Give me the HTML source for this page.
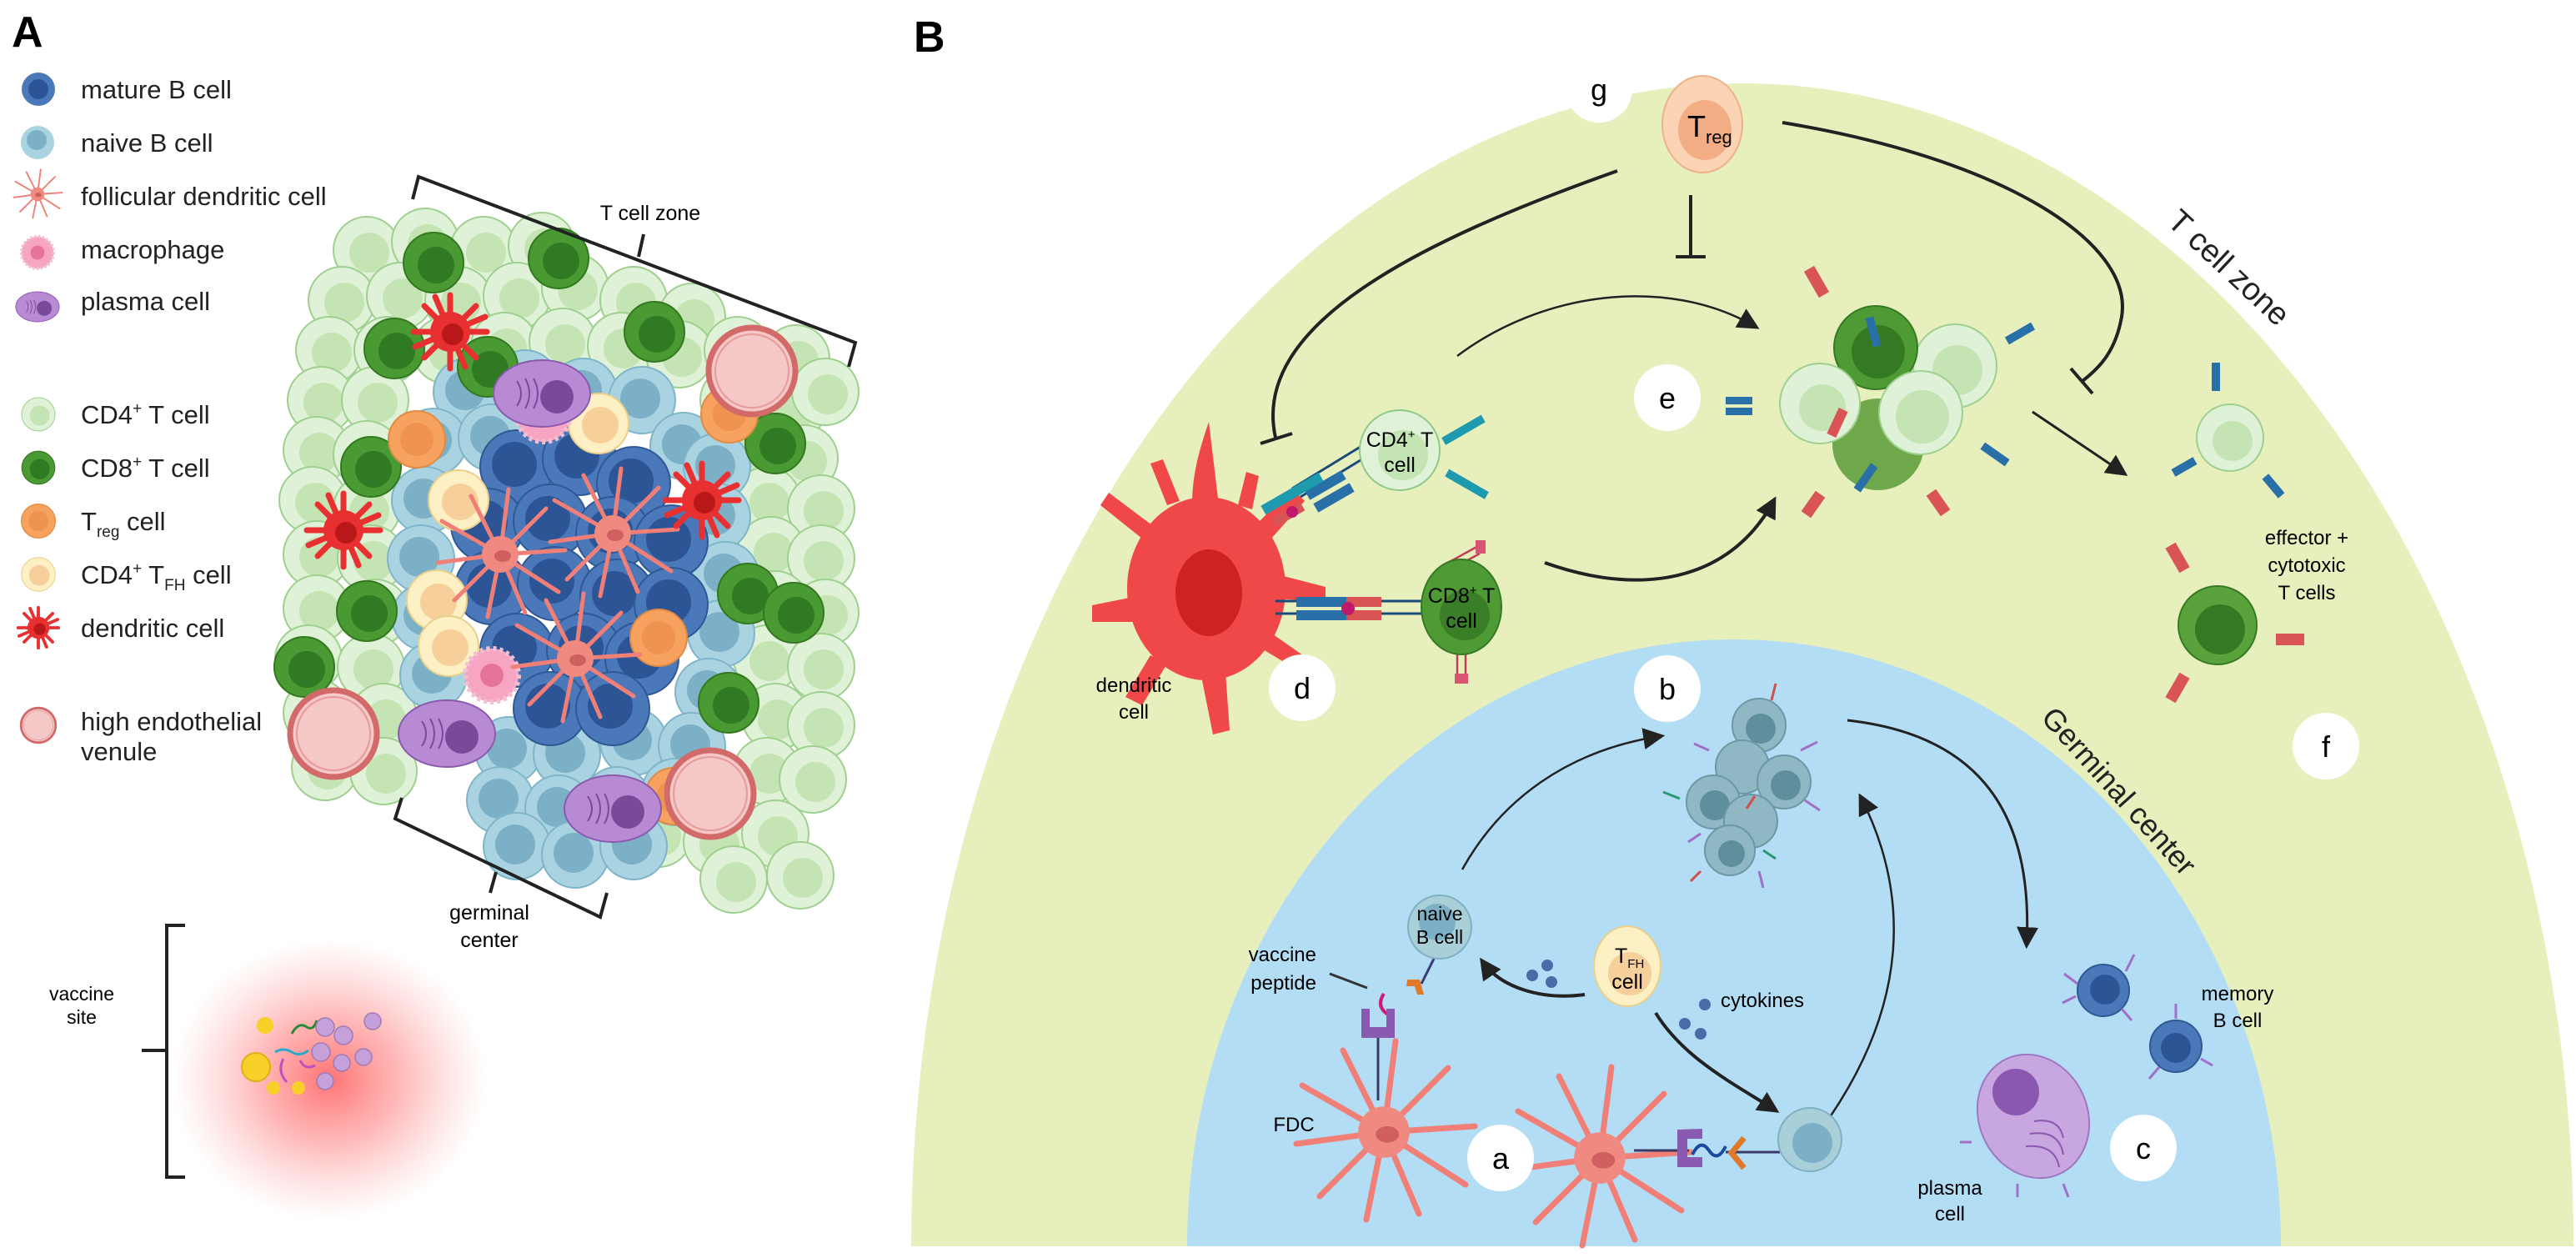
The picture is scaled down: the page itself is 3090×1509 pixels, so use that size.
<!DOCTYPE html>
<html><head><meta charset="utf-8"><style>
html,body{margin:0;padding:0;background:#fff;}
svg{display:block;font-family:"Liberation Sans",sans-serif;}
</style></head><body>
<svg width="3090" height="1509" viewBox="0 0 3090 1509" xmlns="http://www.w3.org/2000/svg">
<defs>
<radialGradient id="glow"><stop offset="0" stop-color="#ff6b6b" stop-opacity="0.95"/><stop offset="0.45" stop-color="#ff8a8a" stop-opacity="0.6"/><stop offset="1" stop-color="#ffb0b0" stop-opacity="0"/></radialGradient>
<g id="cd4"><circle r="40" fill="#dff1d6" stroke="#9fd08f" stroke-width="2"/><circle cx="3" cy="3" r="24" fill="#c4e4b4"/></g>
<g id="cd8"><circle r="36" fill="#4a9a34" stroke="#33781f" stroke-width="2"/><circle cx="3" cy="3" r="22" fill="#2f7a22"/></g>
<g id="nb"><circle r="40" fill="#a9d3e1" stroke="#7fb5c9" stroke-width="2"/><circle cx="-2" cy="-2" r="24" fill="#7cb0c6"/></g>
<g id="mb"><circle r="44" fill="#4a78b8" stroke="#2f5896" stroke-width="2"/><circle cx="-3" cy="-3" r="27" fill="#2d5596"/></g>
<g id="treg"><circle r="34" fill="#f7a25e" stroke="#e08a43" stroke-width="2"/><circle r="20" fill="#ef9350"/></g>
<g id="tfh"><circle r="36" fill="#fdf0c4" stroke="#e9d08a" stroke-width="2"/><circle cx="2" cy="2" r="22" fill="#f6cf9a"/></g>
<g id="mac"><circle r="32" fill="#f7a5c3" stroke="#f2c0d3" stroke-width="6" stroke-dasharray="4 4"/><circle r="14" fill="#e5739c"/></g>
<g id="pc"><ellipse rx="58" ry="40" fill="#b98ad4" stroke="#8a5aae" stroke-width="2"/><circle cx="18" cy="4" r="20" fill="#7a4a9a"/><path d="M-30,-15 q10,15 0,30 M-20,-18 q10,18 0,36 M-10,-18 q10,18 0,36" stroke="#7a4a9a" stroke-width="2" fill="none"/></g>
<g id="hev"><circle r="52" fill="#f5c8c8" stroke="#d26a6a" stroke-width="7"/><circle r="44" fill="none" stroke="#e89999" stroke-width="2"/></g>
<g id="dc"><circle r="24" fill="#e83030"/><path d="M0,-44 L0,44 M-44,0 L44,0 M-31,-31 L31,31 M-31,31 L31,-31 M-18,-42 L18,42 M42,-18 L-42,18" stroke="#e83030" stroke-width="7" stroke-linecap="round"/><circle cx="3" cy="3" r="13" fill="#b81818"/></g>
<g id="fdc"><path d="M0,0 L-70,-40 M0,0 L-75,10 M0,0 L-55,55 M0,0 L-15,75 M0,0 L30,70 M0,0 L70,45 M0,0 L78,-5 M0,0 L55,-55 M0,0 L10,-78 M0,0 L-35,-70" stroke="#f07f78" stroke-width="5" stroke-linecap="round" fill="none"/><circle r="22" fill="#f08a80"/><ellipse cx="3" cy="2" rx="10" ry="7" fill="#d06060"/></g>
<marker id="ah2" viewBox="0 0 10 10" markerWidth="26" markerHeight="26" refX="8" refY="5" orient="auto" markerUnits="userSpaceOnUse"><path d="M0,0 L10,5 L0,10 Z" fill="#222"/></marker>
</defs>

<!-- PANEL A -->
<text x="14" y="56" font-size="52" font-weight="bold">A</text>
<g font-size="31" fill="#222">
<circle cx="46" cy="107" r="20" fill="#4a78b8"/><circle cx="46" cy="107" r="12" fill="#2d5596"/><text x="97" y="118">mature B cell</text>
<circle cx="45" cy="171" r="20" fill="#a9d3e1"/><circle cx="44" cy="168" r="12" fill="#7cb0c6"/><text x="97" y="182">naive B cell</text>
<use href="#fdc" transform="translate(45,233) scale(0.38)"/><text x="97" y="246">follicular dendritic cell</text>
<use href="#mac" transform="translate(45,303) scale(0.6)"/><text x="97" y="310">macrophage</text>
<use href="#pc" transform="translate(45,368) scale(0.45)"/><text x="97" y="372">plasma cell</text>
<use href="#cd4" transform="translate(46,497) scale(0.5)"/><text x="97" y="508">CD4<tspan font-size="19" dy="-12">+</tspan><tspan dy="12"> T cell</tspan></text>
<use href="#cd8" transform="translate(46,561) scale(0.55)"/><text x="97" y="572">CD8<tspan font-size="19" dy="-12">+</tspan><tspan dy="12"> T cell</tspan></text>
<use href="#treg" transform="translate(46,625) scale(0.6)"/><text x="97" y="636">T<tspan font-size="19" dy="8">reg</tspan><tspan dy="-8"> cell</tspan></text>
<use href="#tfh" transform="translate(46,689) scale(0.56)"/><text x="97" y="700">CD4<tspan font-size="19" dy="-12">+</tspan><tspan dy="12"> T</tspan><tspan font-size="19" dy="8">FH</tspan><tspan dy="-8"> cell</tspan></text>
<use href="#dc" transform="translate(46,753) scale(0.55)"/><text x="97" y="764">dendritic cell</text>
<use href="#hev" transform="translate(46,870) scale(0.4)"/><text x="97" y="876">high endothelial</text><text x="97" y="912">venule</text>
</g>

<g>
<use href="#cd4" x="440" y="300"/><use href="#cd4" x="510" y="290"/><use href="#cd4" x="580" y="300"/><use href="#cd4" x="650" y="295"/>
<use href="#cd4" x="410" y="360"/><use href="#cd4" x="480" y="355"/><use href="#cd4" x="550" y="360"/><use href="#cd4" x="620" y="355"/><use href="#cd4" x="690" y="345"/><use href="#cd4" x="760" y="360"/><use href="#cd4" x="830" y="380"/>
<use href="#cd4" x="395" y="420"/><use href="#cd4" x="465" y="420"/><use href="#cd4" x="535" y="420"/><use href="#cd4" x="605" y="415"/><use href="#cd4" x="675" y="410"/><use href="#cd4" x="745" y="415"/><use href="#cd4" x="815" y="425"/><use href="#cd4" x="885" y="420"/><use href="#cd4" x="955" y="430"/>
<use href="#cd4" x="385" y="480"/><use href="#cd4" x="450" y="480"/><use href="#cd4" x="880" y="480"/><use href="#cd4" x="950" y="490"/><use href="#cd4" x="990" y="470"/>
<use href="#cd4" x="380" y="540"/><use href="#cd4" x="440" y="545"/><use href="#cd4" x="900" y="540"/><use href="#cd4" x="965" y="550"/>
<use href="#cd4" x="375" y="600"/><use href="#cd4" x="440" y="610"/><use href="#cd4" x="920" y="600"/><use href="#cd4" x="985" y="610"/>
<use href="#cd4" x="380" y="665"/><use href="#cd4" x="445" y="670"/><use href="#cd4" x="925" y="660"/><use href="#cd4" x="985" y="670"/>
<use href="#cd4" x="380" y="730"/><use href="#cd4" x="450" y="735"/><use href="#cd4" x="930" y="725"/><use href="#cd4" x="990" y="735"/>
<use href="#cd4" x="370" y="790"/><use href="#cd4" x="445" y="800"/><use href="#cd4" x="920" y="790"/><use href="#cd4" x="985" y="800"/>
<use href="#cd4" x="380" y="855"/><use href="#cd4" x="460" y="860"/><use href="#cd4" x="930" y="860"/><use href="#cd4" x="985" y="870"/>
<use href="#cd4" x="390" y="920"/><use href="#cd4" x="460" y="925"/><use href="#cd4" x="920" y="925"/><use href="#cd4" x="975" y="935"/>
<use href="#cd4" x="790" y="1000"/><use href="#cd4" x="860" y="1010"/><use href="#cd4" x="930" y="1000"/><use href="#cd4" x="960" y="1050"/><use href="#cd4" x="880" y="1055"/>
</g>
<g>
<use href="#nb" x="560" y="470"/><use href="#nb" x="630" y="460"/><use href="#nb" x="700" y="470"/><use href="#nb" x="770" y="480"/>
<use href="#nb" x="520" y="530"/><use href="#nb" x="590" y="525"/><use href="#nb" x="820" y="535"/><use href="#nb" x="860" y="560"/>
<use href="#nb" x="510" y="600"/><use href="#nb" x="860" y="620"/><use href="#nb" x="505" y="670"/><use href="#nb" x="870" y="690"/>
<use href="#nb" x="510" y="740"/><use href="#nb" x="865" y="760"/><use href="#nb" x="520" y="810"/><use href="#nb" x="850" y="830"/>
<use href="#nb" x="540" y="880"/><use href="#nb" x="610" y="900"/><use href="#nb" x="680" y="905"/><use href="#nb" x="760" y="890"/><use href="#nb" x="830" y="895"/>
<use href="#nb" x="600" y="960"/><use href="#nb" x="670" y="970"/><use href="#nb" x="740" y="960"/><use href="#nb" x="810" y="950"/>
<use href="#nb" x="620" y="1015"/><use href="#nb" x="690" y="1025"/><use href="#nb" x="760" y="1015"/>
</g>
<g>
<use href="#mb" x="620" y="560"/><use href="#mb" x="695" y="550"/><use href="#mb" x="760" y="580"/>
<use href="#mb" x="585" y="630"/><use href="#mb" x="660" y="625"/><use href="#mb" x="735" y="640"/><use href="#mb" x="805" y="650"/>
<use href="#mb" x="590" y="705"/><use href="#mb" x="665" y="700"/><use href="#mb" x="740" y="715"/><use href="#mb" x="805" y="725"/>
<use href="#mb" x="620" y="780"/><use href="#mb" x="700" y="780"/><use href="#mb" x="770" y="790"/>
<use href="#mb" x="660" y="850"/><use href="#mb" x="735" y="850"/>
</g>
<use href="#cd8" x="473" y="418"/><use href="#cd8" x="520" y="315"/><use href="#cd8" x="670" y="310"/><use href="#cd8" x="585" y="440"/>
<use href="#cd8" x="785" y="398"/><use href="#cd8" x="930" y="532"/><use href="#cd8" x="445" y="560"/><use href="#cd8" x="440" y="733"/>
<use href="#cd8" x="365" y="800"/><use href="#cd8" x="897" y="712"/><use href="#cd8" x="952" y="735"/><use href="#cd8" x="874" y="843"/>
<use href="#treg" x="500" y="527"/><use href="#treg" x="790" y="765"/><use href="#treg" x="808" y="955"/><use href="#treg" x="875" y="497"/>
<use href="#tfh" x="550" y="600"/><use href="#tfh" x="718" y="508"/><use href="#tfh" x="524" y="720"/><use href="#tfh" x="538" y="775"/>
<use href="#mac" x="652" y="498"/><use href="#mac" x="590" y="810"/>
<use href="#pc" x="650" y="472"/><use href="#pc" x="536" y="880"/><use href="#pc" x="735" y="970"/>
<use href="#fdc" x="600" y="665"/><use href="#fdc" x="735" y="640"/><use href="#fdc" x="690" y="790"/>
<use href="#dc" x="540" y="398"/><use href="#dc" x="412" y="636"/><use href="#dc" x="842" y="600"/>
<use href="#hev" x="902" y="445"/><use href="#hev" x="400" y="880"/><use href="#hev" x="852" y="952"/>

<g stroke="#222" stroke-width="4" fill="none">
<path d="M495,239 L502,212 L1026,411 L1018,440"/><path d="M772,281 L766,308"/>
<path d="M482,957 L474,982 L720,1100 L728,1071"/><path d="M595,1046 L588,1071"/>
<path d="M222,1110 L200,1110 L200,1412 L222,1412"/><path d="M200,1260 L170,1260"/>
</g>
<text x="780" y="264" font-size="25" text-anchor="middle">T cell zone</text>
<text x="587" y="1103" font-size="25" text-anchor="middle">germinal</text><text x="587" y="1136" font-size="25" text-anchor="middle">center</text>
<text x="98" y="1200" font-size="23" text-anchor="middle">vaccine</text><text x="98" y="1228" font-size="23" text-anchor="middle">site</text>
<ellipse cx="395" cy="1295" rx="190" ry="170" fill="url(#glow)"/>
<circle cx="318" cy="1230" r="10" fill="#f7d02a"/><circle cx="307" cy="1280" r="17" fill="#f7d02a" stroke="#e0b010" stroke-width="2"/><circle cx="328" cy="1305" r="8" fill="#f7d02a"/><circle cx="358" cy="1305" r="8" fill="#f7d02a"/>
<path d="M350,1240 q8,-15 18,-8 q8,5 12,-8" stroke="#2a8a3a" stroke-width="3" fill="none"/>
<path d="M330,1262 q10,-6 20,0 q10,6 20,-2" stroke="#2aa8c8" stroke-width="3" fill="none"/>
<path d="M340,1270 q-8,15 4,28 M360,1272 q6,12 18,6" stroke="#c04fc0" stroke-width="3" fill="none"/>
<g fill="#c6a0d8" stroke="#a07ab8" stroke-width="1.5"><circle cx="390" cy="1232" r="11"/><circle cx="412" cy="1242" r="11"/><circle cx="447" cy="1225" r="10"/><circle cx="385" cy="1262" r="11"/><circle cx="410" cy="1275" r="10"/><circle cx="436" cy="1268" r="10"/><circle cx="390" cy="1297" r="10"/></g>

<!-- PANEL B -->
<text x="1096" y="62" font-size="52" font-weight="bold">B</text>
<path d="M1093,1495 A997,1395 0 0 1 3087,1495 Z" fill="#e7efbd"/>
<path d="M1424,1495 A656,728 0 0 1 2736,1495 Z" fill="#b3ddf4"/>
<text transform="translate(2598,268) rotate(43)" font-size="38" fill="#222">T cell zone</text>
<text transform="translate(2447,862) rotate(48)" font-size="36" fill="#222">Germinal center</text>

<g stroke="#222" stroke-width="4" fill="none">
<path d="M1940,205 C1700,290 1500,390 1530,525"/><path d="M1512,532 L1550,520"/>
<path d="M2028,234 L2028,308"/><path d="M2010,308 L2046,308"/>
<path d="M2138,147 C2400,190 2560,290 2545,380 C2538,420 2520,440 2498,457"/><path d="M2484,442 L2510,472"/>
<path d="M1748,427 C1850,350 2000,330 2106,392" stroke-width="2.5" marker-end="url(#ah2)"/>
<path d="M1853,675 C1980,720 2080,690 2128,600" marker-end="url(#ah2)"/>
<path d="M2438,494 L2548,568" stroke-width="3" marker-end="url(#ah2)"/>
<path d="M1754,1043 C1800,960 1880,900 1992,883" marker-end="url(#ah2)" stroke-width="2.5"/>
<path d="M1901,1193 C1850,1200 1800,1185 1778,1153" marker-end="url(#ah2)"/>
<path d="M1986,1215 C2020,1270 2080,1300 2130,1332" marker-end="url(#ah2)"/>
<path d="M2195,1340 C2290,1200 2290,1070 2232,956" marker-end="url(#ah2)" stroke-width="2.5"/>
<path d="M2216,864 C2360,880 2440,960 2431,1133" marker-end="url(#ah2)" stroke-width="3"/>
</g>
<ellipse cx="2042" cy="149" rx="48" ry="58" fill="#fbd4b6" stroke="#eeb18a" stroke-width="2"/><ellipse cx="2045" cy="156" rx="32" ry="36" fill="#f2ad84"/>
<text x="2024" y="164" font-size="36">T<tspan font-size="22" dy="8">reg</tspan></text>

<!-- DC + receptors + CD8 (shifted) -->
<g transform="translate(-10,-54)">
<g fill="#f04848">
<ellipse cx="1457" cy="760" rx="95" ry="110"/>
<path d="M1440,660 C1440,620 1450,590 1460,560 L1472,660 Z M1380,700 L1330,660 L1340,645 L1400,690 Z M1370,770 L1320,780 L1320,800 L1375,800 Z M1390,840 L1360,890 L1380,900 L1410,850 Z M1450,860 L1465,935 L1485,930 L1480,860 Z M1520,830 L1570,860 L1580,845 L1530,810 Z M1530,740 L1600,758 L1600,775 L1530,772 Z M1520,680 L1560,640 L1575,655 L1535,700 Z M1495,660 L1505,620 L1520,625 L1512,665 Z M1410,660 L1390,610 L1405,605 L1425,655 Z"/>
</g>
<ellipse cx="1460" cy="765" rx="40" ry="52" fill="#cc2222"/>
<g stroke="#1a4a7a" stroke-width="3"><path d="M1560,640 L1645,588 M1570,650 L1655,598"/><path d="M1540,775 L1620,775 M1540,790 L1620,790 M1660,775 L1715,775 M1660,790 L1715,790"/></g>
<g fill="#2a70a8"><rect x="1565" y="770" width="60" height="12"/><rect x="1565" y="786" width="60" height="12"/><rect x="1575" y="630" width="50" height="12" transform="rotate(-30 1600 636)"/><rect x="1585" y="645" width="50" height="12" transform="rotate(-30 1610 651)"/></g>
<g fill="#d95454"><rect x="1625" y="770" width="42" height="12"/><rect x="1625" y="786" width="42" height="12"/><rect x="1535" y="665" width="40" height="12" transform="rotate(-30 1555 671)"/></g>
<circle cx="1627" cy="784" r="8" fill="#c0186a"/><circle cx="1560" cy="668" r="7" fill="#c0186a"/>
<rect x="1520" y="640" width="80" height="12" transform="rotate(-30 1560 646)" fill="#1e9aae"/>
<path d="M1745,730 L1785,708 M1745,740 L1785,718" stroke="#c0405a" stroke-width="2.5"/><rect x="1780" y="702" width="12" height="16" fill="#d95470"/>
<path d="M1758,835 L1758,870 M1768,835 L1768,870" stroke="#c0405a" stroke-width="2.5"/><rect x="1755" y="862" width="16" height="12" fill="#d95470"/>
<ellipse cx="1763" cy="782" rx="48" ry="57" fill="#4e9a34" stroke="#357a22" stroke-width="2"/><circle cx="1767" cy="792" r="30" fill="#3a7e28"/>
<text x="1763" y="777" font-size="25" text-anchor="middle">CD8<tspan font-size="15" dy="-10">+</tspan><tspan dy="10"> T</tspan></text><text x="1763" y="807" font-size="25" text-anchor="middle">cell</text>
</g>
<g fill="#1e9aae"><rect x="1728" y="511" width="55" height="10" transform="rotate(-30 1755 516)"/><rect x="1732" y="576" width="55" height="10" transform="rotate(30 1760 581)"/></g>
<circle cx="1679" cy="540" r="48" fill="#e0f3d8" stroke="#8fc98a" stroke-width="2"/><circle cx="1683" cy="546" r="30" fill="#c4e4b4"/>
<text x="1679" y="536" font-size="25" text-anchor="middle">CD4<tspan font-size="15" dy="-10">+</tspan><tspan dy="10"> T</tspan></text><text x="1679" y="566" font-size="25" text-anchor="middle">cell</text>
<text x="1360" y="830" font-size="24" text-anchor="middle">dendritic</text><text x="1360" y="862" font-size="24" text-anchor="middle">cell</text>

<!-- cluster e -->
<g>
<circle cx="2253" cy="533" r="55" fill="#6ea84a"/>
<circle cx="2345" cy="439" r="50" fill="#dff1d6" stroke="#9fd08f" stroke-width="2"/><circle cx="2348" cy="444" r="30" fill="#c4e4b4"/>
<circle cx="2250" cy="417" r="50" fill="#4e9a34" stroke="#357a22" stroke-width="2"/><circle cx="2253" cy="422" r="32" fill="#357a22"/>
<circle cx="2183" cy="484" r="48" fill="#dff1d6" stroke="#9fd08f" stroke-width="2"/><circle cx="2186" cy="489" r="28" fill="#c4e4b4"/>
<circle cx="2304" cy="495" r="50" fill="#dff1d6" stroke="#9fd08f" stroke-width="2"/><circle cx="2306" cy="500" r="32" fill="#c4e4b4"/>
<g fill="#2a70a8"><rect x="2070" y="476" width="32" height="9"/><rect x="2070" y="489" width="32" height="9"/><rect x="2405" y="395" width="36" height="10" transform="rotate(-30 2423 400)"/><rect x="2375" y="540" width="36" height="10" transform="rotate(35 2393 545)"/><rect x="2220" y="568" width="36" height="10" transform="rotate(-55 2238 573)"/><rect x="2242" y="380" width="10" height="36" transform="rotate(-15 2247 398)"/></g>
<g fill="#d95454"><rect x="2172" y="320" width="14" height="36" transform="rotate(-30 2179 338)"/><rect x="2168" y="590" width="14" height="30" transform="rotate(35 2175 605)"/><rect x="2318" y="588" width="14" height="30" transform="rotate(-35 2325 603)"/><rect x="2198" y="490" width="12" height="34" transform="rotate(25 2204 507)"/></g>
</g>
<!-- effector cells -->
<circle cx="2675" cy="525" r="40" fill="#dff1d6" stroke="#9fd08f" stroke-width="2"/><circle cx="2678" cy="529" r="24" fill="#c4e4b4"/>
<g fill="#2a70a8"><rect x="2653" y="435" width="10" height="34"/><rect x="2605" y="555" width="30" height="10" transform="rotate(-30 2620 560)"/><rect x="2712" y="578" width="30" height="10" transform="rotate(50 2727 583)"/></g>
<circle cx="2660" cy="750" r="47" fill="#5aa23c" stroke="#357a22" stroke-width="2"/><circle cx="2663" cy="755" r="30" fill="#357a22"/>
<g fill="#d95454"><rect x="2605" y="652" width="14" height="34" transform="rotate(-30 2612 669)"/><rect x="2730" y="760" width="34" height="14"/><rect x="2605" y="808" width="14" height="34" transform="rotate(30 2612 825)"/></g>
<text x="2767" y="653" font-size="24" text-anchor="middle">effector +</text><text x="2767" y="686" font-size="24" text-anchor="middle">cytotoxic</text><text x="2767" y="719" font-size="24" text-anchor="middle">T cells</text>
<!-- b cluster -->
<g>
<circle cx="2110" cy="870" r="32" fill="#8fb8c4" stroke="#6c98a6" stroke-width="2"/><circle cx="2112" cy="874" r="18" fill="#5f8e9c"/>
<circle cx="2090" cy="920" r="32" fill="#8fb8c4" stroke="#6c98a6" stroke-width="2"/>
<circle cx="2140" cy="938" r="32" fill="#8fb8c4" stroke="#6c98a6" stroke-width="2"/><circle cx="2142" cy="942" r="18" fill="#5f8e9c"/>
<circle cx="2055" cy="962" r="32" fill="#8fb8c4" stroke="#6c98a6" stroke-width="2"/><circle cx="2057" cy="966" r="18" fill="#5f8e9c"/>
<circle cx="2100" cy="985" r="32" fill="#8fb8c4" stroke="#6c98a6" stroke-width="2"/>
<circle cx="2075" cy="1020" r="30" fill="#8fb8c4" stroke="#6c98a6" stroke-width="2"/><circle cx="2077" cy="1024" r="16" fill="#5f8e9c"/>
<g stroke="#a070c8" stroke-width="3"><path d="M2160,900 l20,-10 M2165,960 l18,12 M2040,1000 l-15,10 M2110,1045 l5,20 M2050,900 l-18,-8"/></g>
<g stroke="#d05050" stroke-width="3"><path d="M2125,840 l5,-20 M2040,1045 l-12,12 M2095,970 l10,-15"/></g>
<g stroke="#2a9a70" stroke-width="3"><path d="M2015,958 l-20,-8 M2115,1020 l15,10"/></g>
</g>
<!-- naive B / TFH -->
<path d="M1720,1150 L1705,1180" stroke="#3a3a7a" stroke-width="3"/>
<circle cx="1727" cy="1112" r="38" fill="#a9cfd9" stroke="#7fb0c0" stroke-width="2"/><circle cx="1724" cy="1106" r="22" fill="#7cb0c6"/>
<text x="1727" y="1104" font-size="23" text-anchor="middle">naive</text><text x="1727" y="1132" font-size="23" text-anchor="middle">B cell</text>
<path d="M1688,1175 l15,0 l5,18 l-8,0 l-3,-10 l-10,0 Z" fill="#e07a2a"/>
<path d="M1595,1168 L1640,1185" stroke="#333" stroke-width="3"/>
<path d="M1660,1192 q-10,15 5,25 q10,10 -5,25" stroke="#d0187a" stroke-width="4" fill="none"/>
<path d="M1633,1210 l0,35 l40,0 l0,-35 l-10,0 l0,22 l-20,0 l0,-22 Z" fill="#8a5ab0"/>
<path d="M1653,1245 L1653,1320" stroke="#3a3a6a" stroke-width="3"/>
<text x="1579" y="1153" font-size="24" text-anchor="end">vaccine</text><text x="1579" y="1187" font-size="24" text-anchor="end">peptide</text>
<ellipse cx="1952" cy="1159" rx="40" ry="48" fill="#fdf0c4" stroke="#e9d08a" stroke-width="2"/><circle cx="1955" cy="1168" r="26" fill="#f6cf9a"/>
<text x="1937" y="1155" font-size="25">T<tspan font-size="15" dy="6">FH</tspan></text><text x="1952" y="1186" font-size="25" text-anchor="middle">cell</text>
<g fill="#4a6aa8"><circle cx="1856" cy="1158" r="7"/><circle cx="1838" cy="1170" r="7"/><circle cx="1861" cy="1178" r="7"/><circle cx="2045" cy="1205" r="7"/><circle cx="2021" cy="1228" r="7"/><circle cx="2040" cy="1240" r="7"/></g>
<text x="2064" y="1208" font-size="24">cytokines</text>
<use href="#fdc" transform="translate(1660,1358) scale(1.4)"/>
<use href="#fdc" transform="translate(1919,1389) scale(1.4)"/>
<text x="1552" y="1357" font-size="24" text-anchor="middle">FDC</text>
<path d="M1960,1380 L2026,1380 M2070,1382 L2135,1382" stroke="#3a3a6a" stroke-width="3"/>
<path d="M2012,1355 l0,45 l30,0 l0,-12 l-18,0 l0,-22 l18,0 l0,-12 Z" fill="#8a5ab0"/>
<path d="M2030,1385 q10,-20 20,-5 q10,15 20,-5" stroke="#1a4aa0" stroke-width="4" fill="none"/>
<path d="M2092,1365 l-15,18 l15,18" stroke="#e07a2a" stroke-width="7" fill="none"/>
<circle cx="2171" cy="1367" r="38" fill="#a9cfd9" stroke="#7fb0c0" stroke-width="2"/><circle cx="2174" cy="1371" r="24" fill="#7cb0c6"/>
<!-- memory B & plasma -->
<circle cx="2523" cy="1188" r="31" fill="#4a78b8" stroke="#2f5896" stroke-width="2"/><circle cx="2525" cy="1187" r="18" fill="#2d5596"/>
<circle cx="2610" cy="1255" r="31" fill="#4a78b8" stroke="#2f5896" stroke-width="2"/><circle cx="2610" cy="1257" r="18" fill="#2d5596"/>
<g stroke="#a070c8" stroke-width="3"><path d="M2492,1180 l-16,-12 M2550,1165 l10,-20 M2545,1210 l12,14 M2610,1222 l0,-18 M2640,1270 l14,8 M2590,1280 l-12,14 M2490,1195 l-16,8"/></g>
<text x="2684" y="1200" font-size="24" text-anchor="middle">memory</text><text x="2684" y="1232" font-size="24" text-anchor="middle">B cell</text>
<ellipse cx="2439" cy="1339" rx="65" ry="76" fill="#c8a6e0" stroke="#9e78c0" stroke-width="2" transform="rotate(-25 2439 1339)"/>
<circle cx="2418" cy="1310" r="28" fill="#8a58b0"/>
<path d="M2440,1345 q30,-5 35,20 M2435,1360 q35,-5 40,25 M2430,1375 q35,-3 40,25" stroke="#8a58b0" stroke-width="2" fill="none"/>
<g stroke="#a070c8" stroke-width="3"><path d="M2365,1370 l-14,0 M2420,1420 l0,16 M2475,1420 l6,16"/></g>
<text x="2339" y="1433" font-size="24" text-anchor="middle">plasma</text><text x="2339" y="1464" font-size="24" text-anchor="middle">cell</text>
<g font-size="36" text-anchor="middle">
<circle cx="1918" cy="107" r="40" fill="#fff"/><text x="1918" y="120">g</text>
<circle cx="2000" cy="477" r="40" fill="#fff"/><text x="2000" y="490">e</text>
<circle cx="1562" cy="825" r="40" fill="#fff"/><text x="1562" y="838">d</text>
<circle cx="2000" cy="826" r="40" fill="#fff"/><text x="2000" y="839">b</text>
<circle cx="2790" cy="895" r="40" fill="#fff"/><text x="2790" y="908">f</text>
<circle cx="1800" cy="1389" r="40" fill="#fff"/><text x="1800" y="1402">a</text>
<circle cx="2571" cy="1377" r="40" fill="#fff"/><text x="2571" y="1390">c</text>
</g>
</svg>
</body></html>
